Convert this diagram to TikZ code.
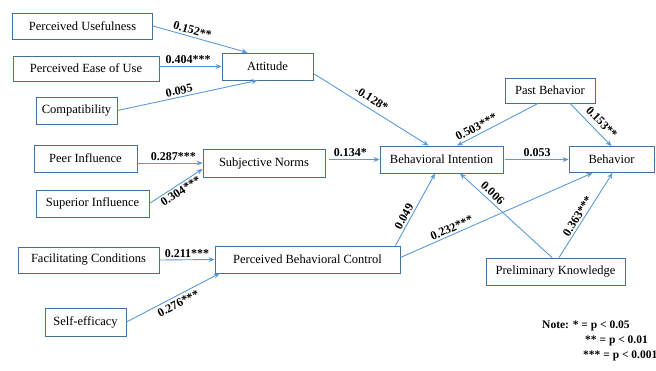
\documentclass[tikz,border=0pt]{standalone}
\usepackage{fontspec}
\setmainfont{Liberation Serif}
\usepackage{tikz}
\usetikzlibrary{calc, arrows.meta}

\definecolor{boxblue}{RGB}{65,113,156}
\definecolor{linkblue}{RGB}{91,155,213}

\begin{document}
\begin{tikzpicture}[x=1pt, y=-1pt,
  var/.style={draw=boxblue, line width=0.9pt, fill=white, inner sep=0pt, text=black, font=\fontsize{12.5}{14}\selectfont},
  link/.style={-{Stealth[length=6pt, width=5pt]}, draw=linkblue, line width=0.9pt},
  coef/.style={font=\bfseries\fontsize{12}{14}\selectfont, text=black, inner sep=2pt},
  note/.style={font=\bfseries\fontsize{11.5}{13}\selectfont, text=black, inner sep=0pt, anchor=west}]
\useasboundingbox (0,0) rectangle (656,370);

% constructs
\node[var, minimum width=140pt, minimum height=26pt] (pu) at (82.5,26) {Perceived Usefulness};
\node[var, minimum width=146pt, minimum height=25pt] (peu) at (86,68.5) {Perceived Ease of Use};
\node[var, minimum width=81pt, minimum height=27pt] (comp) at (76.5,110.5) {Compatibility};
\node[var, minimum width=91pt, minimum height=27pt] (att) at (267.5,66.5) {Attitude};
\node[var, minimum width=103pt, minimum height=27pt] (peer) at (85.5,158.5) {Peer Influence};
\node[var, minimum width=113pt, minimum height=27pt] (sup) at (92.5,203.5) {Superior Influence};
\node[var, minimum width=122pt, minimum height=28pt] (sn) at (264,163) {Subjective Norms};
\node[var, minimum width=141pt, minimum height=26pt] (fc) at (88.5,260) {Facilitating Conditions};
\node[var, minimum width=81pt, minimum height=28pt] (se) at (85.5,322) {Self-efficacy};
\node[var, minimum width=185pt, minimum height=27pt] (pbc) at (307.5,259.5) {Perceived Behavioral Control};
\node[var, minimum width=123pt, minimum height=27pt] (bi) at (441.5,159.5) {Behavioral Intention};
\node[var, minimum width=85pt, minimum height=26pt] (beh) at (611.5,159.5) {Behavior};
\node[var, minimum width=90pt, minimum height=25pt] (past) at (550,90.5) {Past Behavior};
\node[var, minimum width=139pt, minimum height=27pt] (pk) at (555.5,271.5) {Preliminary Knowledge};

% paths
\draw[link] (pu.east) -- ($(att.north)+(-20,0)$) node[coef, pos=0.4, sloped, above] {0.152**};
\draw[link] (peu.east |- att.west) -- (att.west) node[coef, pos=0.46, above] {0.404***};
\draw[link] (comp.east) -- ($(att.south)+(-10,0)$) node[coef, pos=0.45, sloped, above] {0.095};
\draw[link] ($(att.east)+(0,7)$) -- ($(bi.north)+(-13,0)$) node[coef, pos=0.46, sloped, above=3pt] {-0.128*};
\draw[link] (peer.east |- sn.west) -- (sn.west) node[coef, pos=0.55, above] {0.287***};
\draw[link] (sup.east) -- ($(sn.west)+(0,6)$) node[coef, pos=0.52, sloped, below] {0.304***};
\draw[link] ($(sn.east |- bi.west)+(4,0)$) -- (bi.west) node[coef, pos=0.42, above] {0.134*};
\draw[link] ($(bi.east)+(2,0)$) -- (beh.west) node[coef, midway, above] {0.053};
\draw[link] ($(past.south)+(-12,0)$) -- ($(bi.north)+(15.5,0)$) node[coef, pos=0.72, sloped, above=1pt] {0.503***};
\draw[link] ($(past.south)+(20,0)$) -- (beh.north) node[coef, pos=0.6, sloped, above=3pt] {0.153**};
\draw[link] (fc.east) -- (pbc.west) node[coef, midway, above] {0.211***};
\draw[link] (se.east) -- ($(pbc.south west)+(5,0)$) node[coef, pos=0.52, sloped, below=1pt] {0.276***};
\draw[link] ($(pbc.north east)+(-5,0)$) -- ($(bi.south)+(-6.5,0)$) node[coef, pos=0.36, sloped, above] {0.049};
\draw[link] ($(pbc.east)+(0,-2)$) -- ($(beh.south)+(-19,0)$) node[coef, pos=0.28, sloped, above] {0.232***};
\draw[link] ($(pk.north)+(-3.5,0)$) -- ($(bi.south)+(18.5,0)$) node[coef, pos=0.7, sloped, above=1pt] {0.006};
\draw[link] ($(pk.north)+(3.5,0)$) -- ($(beh.south)+(1,0)$) node[coef, pos=0.45, sloped, above] {0.363***};

% legend
\node[note] (n1) at (542,326) {Note: * = p < 0.05};
\node[note] (n2) at (585,341) {** = p < 0.01};
\node[note] (n3) at (583,356) {*** = p < 0.001};
\end{tikzpicture}
\end{document}
